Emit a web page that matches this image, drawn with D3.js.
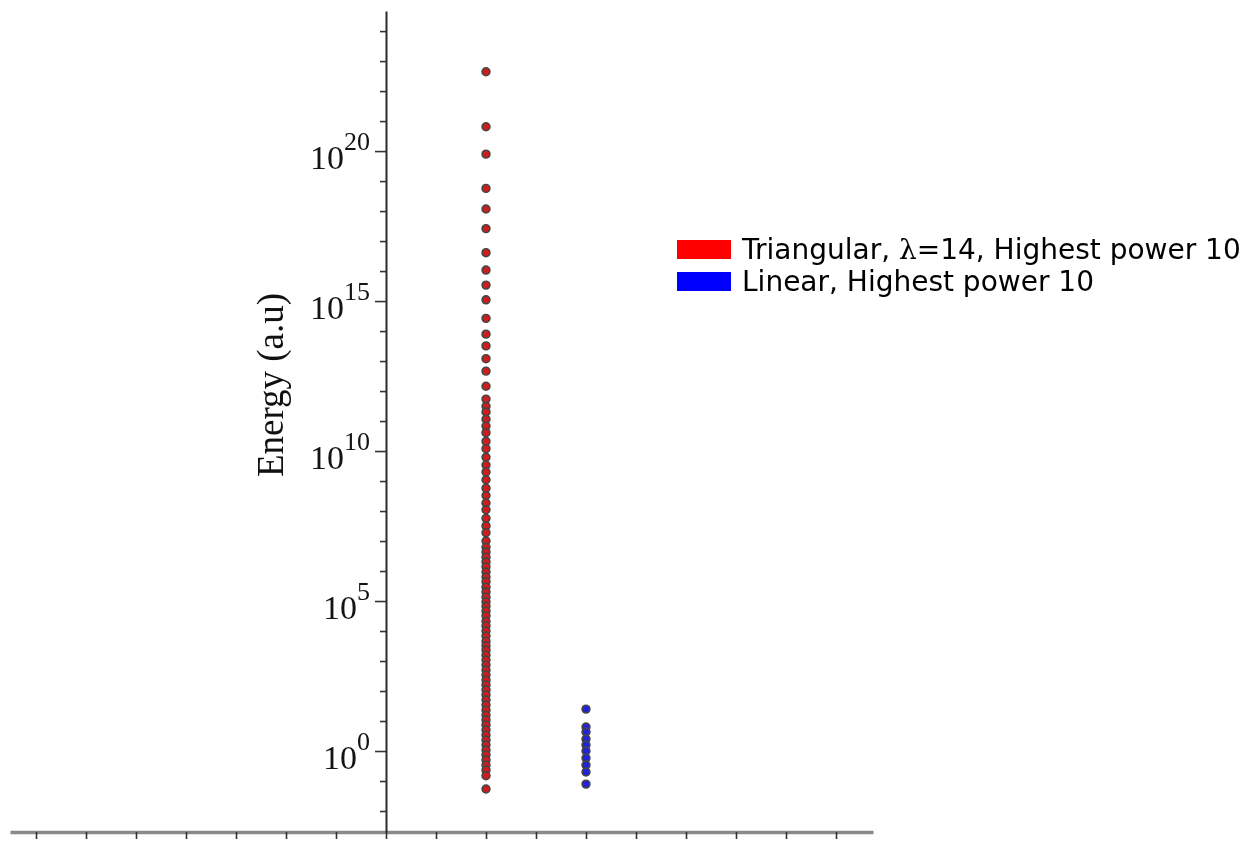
<!DOCTYPE html>
<html>
<head>
<meta charset="utf-8">
<script src="https://cdn.jsdelivr.net/npm/d3@7"></script>
<style>
  html, body { margin: 0; padding: 0; background: #ffffff; }
  svg { display: block; }
</style>
</head>
<body>
<script>
// Series: eigen-energies for two basis choices (a.u.)
const seriesNames = ["Triangular, ", "Linear, Highest power 10"];
const seriesColors = ["#d01e1e", "#2424dc"];
const seriesX = [1, 2];

const triangularEnergies = [
  4.4e22, 6.5e20, 7.9e19, 5.7e18, 1.17e18, 2.6e17, 4.1e16, 1.08e16,
  3.4e15, 1.1e15, 2.65e14, 7.9e13, 3.2e13, 1.2e13, 4.6e12, 1.45e12,
  5.4e11, 3.1e11, 2.0e11, 1.15e11, 6.8e10, 4.1e10, 2.1e10, 1.2e10,
  6.2e9, 3.4e9, 2.0e9, 1.1e9, 5.8e8, 3.3e8, 1.85e8, 1.1e8,
  5.7e7, 3.2e7, 1.9e7, 1.0e7, 6.2e6, 4.3e6, 2.9e6, 2.0e6,
  1.38e6, 9.2e5, 6.3e5, 4.4e5, 2.9e5, 2.0e5, 1.35e5, 9.4e4,
  6.7e4, 4.6e4, 3.2e4, 2.1e4, 1.48e4, 1.0e4, 6.8e3, 4.5e3,
  3.2e3, 2.3e3, 1.57e3, 1.08e3, 7.3e2, 5.0e2, 3.4e2, 2.3e2,
  1.6e2, 1.08e2, 74, 50, 34, 23, 15.5, 10.8,
  7.4, 5.0, 3.4, 2.3, 1.58, 1.08, 0.74, 0.5,
  0.34, 0.23, 0.15, 0.054
];

const linearEnergies = [25, 6.3, 4.3, 2.5, 1.58, 1.0, 0.58, 0.34, 0.2, 0.079];

// Axes
const xTickValues = [-3.5, -3, -2.5, -2, -1.5, -1, -0.5, 0, 0.5, 1, 1.5, 2, 2.5, 3, 3.5, 4, 4.5];
const yTickExponents = [-2, -1, 0, 1, 2, 3, 4, 5, 6, 7, 8, 9, 10, 11, 12, 13, 14, 15, 16, 17, 18, 19, 20, 21, 22, 23, 24];
const yLabelExponents = [0, 5, 10, 15, 20];
const yAxisTitle = "Energy (a.u)";

const W = 1253, H = 841;
const svg = d3.select("body").append("svg").attr("width", W).attr("height", H);

const defs = svg.append("defs");
defs.append("filter").attr("id", "soft")
  .attr("x", "-20%").attr("y", "-5%").attr("width", "140%").attr("height", "110%")
  .append("feGaussianBlur").attr("stdDeviation", 0.6);

const x = d3.scaleLinear().domain([-3.76, 4.87]).range([10, 873]);
const y = d3.scaleLog().domain([Math.pow(10, -2.7), Math.pow(10, 24.67)]).range([832, 11]);

const plot = svg.append("g").attr("filter", "url(#soft)");

// x axis (horizontal line at the bottom)
const xAxis = d3.axisBottom(x)
  .tickValues(xTickValues)
  .tickSize(7)
  .tickSizeOuter(0)
  .tickFormat("");
const gx = plot.append("g").attr("transform", `translate(0,${y.range()[0]})`).call(xAxis);
gx.select(".domain").attr("stroke", "#8a8a8a").attr("stroke-width", 3.5);
gx.selectAll(".tick line").attr("stroke", "#333").attr("stroke-width", 1.6);

// y axis through x = 0
const yAxis = d3.axisLeft(y)
  .tickValues(yTickExponents.map(e => Math.pow(10, e)))
  .tickSize(6)
  .tickSizeOuter(0)
  .tickFormat("");
const gy = plot.append("g").attr("transform", `translate(${x(0)},0)`).call(yAxis);
gy.select(".domain").attr("stroke", "#2a2a2a").attr("stroke-width", 2);
gy.selectAll(".tick line")
  .attr("stroke", "#333").attr("stroke-width", 1.6)
  .attr("x2", (d) => {
    const e = Math.round(Math.log10(d));
    return yLabelExponents.includes(e) ? -11 : -6;
  });

// power-of-ten tick labels
const labels = svg.append("g");
yLabelExponents.forEach(e => {
  const t = labels.append("text")
    .attr("x", x(0) - 16)
    .attr("y", y(Math.pow(10, e)) + 18)
    .attr("text-anchor", "end")
    .attr("font-family", "'Liberation Serif', 'Times New Roman', serif")
    .attr("fill", "#141414");
  t.append("tspan").attr("font-size", 34).text("10");
  t.append("tspan").attr("font-size", 26).attr("dy", -19).text(String(e));
});

// axis title
svg.append("text")
  .attr("transform", `translate(283,385) rotate(-90)`)
  .attr("text-anchor", "middle")
  .attr("font-family", "'Liberation Serif', 'Times New Roman', serif")
  .attr("font-size", 37)
  .attr("fill", "#111")
  .text(yAxisTitle);

// points
const seriesData = [triangularEnergies, linearEnergies];
seriesData.forEach((vals, i) => {
  plot.append("g").selectAll("circle")
    .data(vals)
    .join("circle")
    .attr("cx", x(seriesX[i]))
    .attr("cy", d => y(d))
    .attr("r", 3.9)
    .attr("fill", seriesColors[i])
    .attr("stroke", "#454545")
    .attr("stroke-width", 1.6);
});

// legend
const legend = svg.append("g");
const legendFill = ["#ff0000", "#0000ff"];
[0, 1].forEach(i => {
  legend.append("rect")
    .attr("x", 677).attr("y", 240 + i * 32)
    .attr("width", 54).attr("height", 19)
    .attr("fill", legendFill[i]);
});
const l1 = legend.append("text")
  .attr("x", 742).attr("y", 259)
  .attr("font-family", "'DejaVu Sans', sans-serif")
  .attr("font-size", 28).attr("fill", "#000");
l1.append("tspan").text(seriesNames[0]);
l1.append("tspan").attr("font-family", "'DejaVu Serif', 'Liberation Serif', serif").text("λ");
l1.append("tspan").text("=14, Highest power 10");
legend.append("text")
  .attr("x", 742).attr("y", 291)
  .attr("font-family", "'DejaVu Sans', sans-serif")
  .attr("font-size", 28).attr("fill", "#000")
  .text(seriesNames[1]);
</script>
</body>
</html>
